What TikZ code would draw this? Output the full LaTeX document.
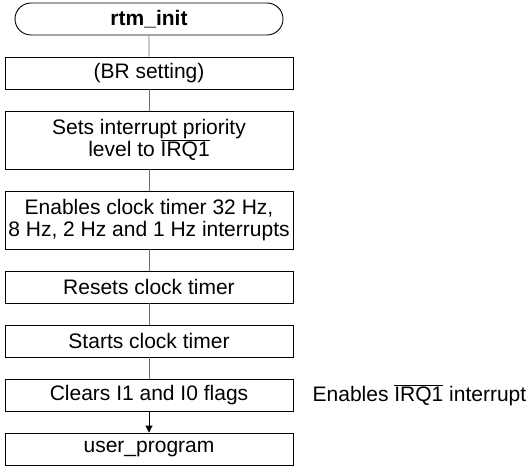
\documentclass[tikz,border=0pt]{standalone}
\usepackage{fontspec}
\setmainfont{Liberation Sans}
\usetikzlibrary{arrows.meta, positioning, shapes.misc}
\definecolor{cLine}{HTML}{6E6E6E}
\newcommand{\irqbar}{$\overline{\hbox{IRQ1}}$}

\begin{document}
\begin{tikzpicture}[
  x=1pt, y=1pt,
  node distance=21.1pt,
  every node/.style={font=\fontsize{21}{22}\selectfont},
  procbox/.style={rectangle, draw, line width=0.9pt, minimum width=288pt,
                  minimum height=32pt, align=center, inner sep=0pt},
  twoline/.style={procbox, minimum height=58pt},
  termbox/.style={rounded rectangle, draw, line width=0.9pt, minimum width=268pt,
                  minimum height=32pt, inner sep=0pt, font=\fontsize{21}{22}\selectfont\bfseries},
  conn/.style={line width=0.9pt, color=cLine},
  arr/.style={conn, -{Triangle[length=7pt, width=7pt]}, color=black},
]
\useasboundingbox (0,0) rectangle (529,-465);
\node[termbox] (init) at (149,-19) {rtm\_init};
\node[procbox, below=of init] (brset) {(BR setting)};
\node[twoline, below=of brset] (prio) {Sets interrupt priority\\level to \irqbar};
\node[twoline, below=of prio] (enclk) {Enables clock timer 32 Hz,\\8 Hz, 2 Hz and 1 Hz interrupts};
\node[procbox, below=of enclk] (reset) {Resets clock timer};
\node[procbox, below=of reset] (start) {Starts clock timer};
\node[procbox, below=of start] (clrflg) {Clears I1 and I0 flags};
\node[procbox, below=of clrflg] (user) {user\_program};
\node[right=19pt of clrflg, anchor=west, inner sep=0pt] (irqnote) {Enables \irqbar{} interrupt};
% connectors
\draw[conn] (init)--(brset);
\draw[conn] (brset)--(prio);
\draw[conn] (prio)--(enclk);
\draw[conn] (enclk)--(reset);
\draw[conn] (reset)--(start);
\draw[conn] (start)--(clrflg);
\draw[arr]  (clrflg)--(user);
\end{tikzpicture}
\end{document}
